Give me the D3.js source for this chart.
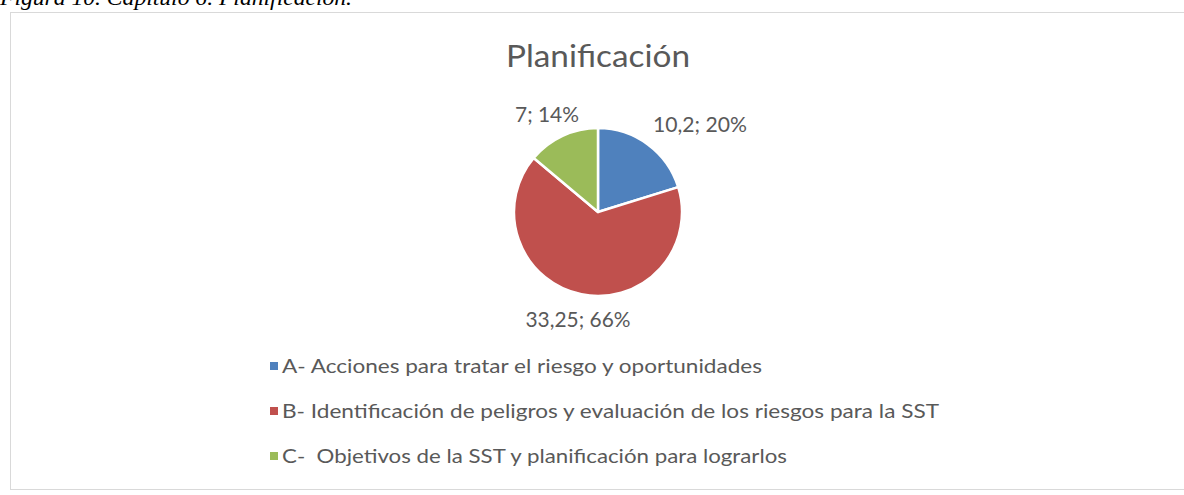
<!DOCTYPE html>
<html><head><meta charset="utf-8">
<script src="https://cdn.jsdelivr.net/npm/d3@7"></script>
<style>body{margin:0;background:#fff;} svg{display:block;} text{white-space:pre;}</style>
</head><body>
<svg id="c" width="1184" height="495"></svg>
<script>
const categories = ["A- Acciones para tratar el riesgo y oportunidades",
  "B- Identificación de peligros y evaluación de los riesgos para la SST",
  "C-  Objetivos de la SST y planificación para lograrlos"];
const values = [10.2, 33.25, 7];
const valueLabels = ["10,2", "33,25", "7"];
const percentLabels = ["20%", "66%", "14%"];
const colors = ["#4F81BD", "#C0504D", "#9BBB59"];
const title = "Planificación";
const caption = "Figura 10. Capitulo 6. Planificación.";

const svg = d3.select("#c");
const textColor = "#595959";
const font = "Lato, 'Open Sans', sans-serif";

function fitLen(sel, w){
  sel.attr("textLength", w).attr("lengthAdjust", "spacingAndGlyphs");
}

// caption
const cap = svg.append("text").attr("x", 0).attr("y", 5)
  .attr("font-family", "'Liberation Serif', 'Times New Roman', serif")
  .attr("font-style", "italic").attr("font-size", 22).attr("fill", "#000").text(caption);
fitLen(cap, 352);

// border
svg.append("rect").attr("x", 10.5).attr("y", 12.5).attr("width", 1200).attr("height", 477)
  .attr("fill", "none").attr("stroke", "#d9d9d9").attr("stroke-width", 1);

// title
const t = svg.append("text").attr("x", 598).attr("y", 67).attr("text-anchor", "middle")
  .attr("font-family", font).attr("font-size", 30).attr("fill", textColor).text(title);
fitLen(t, 184);

// pie
const cx = 598, cy = 212, r = 84;
const pie = d3.pie().sort(null).value(d => d);
const arcs = pie(values);
const arc = d3.arc().innerRadius(0).outerRadius(r);
const g = svg.append("g").attr("transform", `translate(${cx},${cy})`);
g.selectAll("path").data(arcs).join("path")
  .attr("d", arc).attr("fill", (d, i) => colors[i])
  .attr("stroke", "#fff").attr("stroke-width", 2.5).attr("stroke-linejoin", "round");

// data labels
const labelPos = [[700, 132, 94], [578, 327, 105], [547, 122, 64]];
arcs.forEach((d, i) => {
  const tx = svg.append("text")
    .attr("x", labelPos[i][0]).attr("y", labelPos[i][1]).attr("text-anchor", "middle")
    .attr("font-family", font).attr("font-size", 20.5).attr("fill", textColor)
    .text(valueLabels[i] + "; " + percentLabels[i]);
  fitLen(tx, labelPos[i][2]);
});

// legend
const legW = [480, 657, 505];
const y = d3.scalePoint().domain(categories).range([366, 456]);
categories.forEach((c, i) => {
  const yy = y(c);
  svg.append("rect").attr("x", 270).attr("y", yy - 4).attr("width", 8).attr("height", 8)
    .attr("fill", colors[i]);
  const lt = svg.append("text").attr("x", 282).attr("y", yy + 7)
    .attr("font-family", font).attr("font-size", 20).attr("fill", textColor).text(c);
  fitLen(lt, legW[i]);
});
</script>
</body></html>
